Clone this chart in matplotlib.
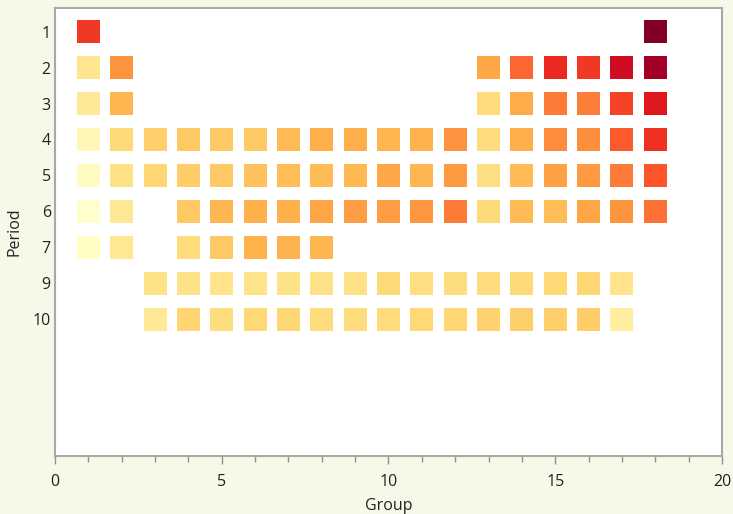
import matplotlib.pyplot as plt
from matplotlib import colors
from matplotlib.ticker import MultipleLocator

# first ionization energy (eV)
period_labels = ["1", "2", "3", "4", "5", "6", "7", "9", "10"]

row_1_groups = [1, 18]
row_1_vals = [13.6, 24.59]

row_2_groups = [1, 2, 13, 14, 15, 16, 17, 18]
row_2_vals = [5.39, 9.32, 8.30, 11.26, 14.53, 13.62, 17.42, 21.56]

row_3_groups = [1, 2, 13, 14, 15, 16, 17, 18]
row_3_vals = [5.14, 7.65, 5.99, 8.15, 10.49, 10.36, 12.97, 15.76]

row_4_groups = list(range(1, 19))
row_4_vals = [4.34, 6.11, 6.56, 6.83, 6.75, 6.77, 7.43, 7.90, 7.88,
              7.64, 7.73, 9.39, 6.00, 7.90, 9.79, 9.75, 11.81, 14.00]

row_5_groups = list(range(1, 19))
row_5_vals = [4.18, 5.69, 6.22, 6.63, 6.76, 7.09, 7.28, 7.36, 7.46,
              8.34, 7.58, 8.99, 5.79, 7.34, 8.61, 9.01, 10.45, 12.13]

row_6_groups = [1, 2] + list(range(4, 19))
row_6_vals = [3.89, 5.21, 6.83, 7.55, 7.86, 7.83, 8.44, 8.97, 8.96,
              9.23, 10.44, 6.11, 7.42, 7.29, 8.41, 9.32, 10.75]

row_7_groups = [1, 2, 4, 5, 6, 7, 8]
row_7_vals = [4.07, 5.28, 6.0, 6.8, 7.8, 7.7, 7.6]

row_9_groups = list(range(3, 18))
row_9_vals = [5.58, 5.54, 5.47, 5.53, 5.58, 5.64, 5.67, 6.15, 5.86,
              5.94, 6.02, 6.11, 6.18, 6.25, 5.43]

row_10_groups = list(range(3, 18))
row_10_vals = [5.17, 6.31, 5.89, 6.19, 6.27, 6.03, 5.97, 5.99, 6.20,
               6.28, 6.42, 6.50, 6.58, 6.65, 4.90]

rows = [
    (row_1_groups, row_1_vals),
    (row_2_groups, row_2_vals),
    (row_3_groups, row_3_vals),
    (row_4_groups, row_4_vals),
    (row_5_groups, row_5_vals),
    (row_6_groups, row_6_vals),
    (row_7_groups, row_7_vals),
    (row_9_groups, row_9_vals),
    (row_10_groups, row_10_vals),
]

plt.rcParams["font.family"] = ["Open Sans", "DejaVu Sans"]

bg = "#f8f8e8"
fig = plt.figure(figsize=(7.33, 5.14), dpi=100, facecolor=bg)
ax = fig.add_axes([0.075, 0.113, 0.910, 0.871])
ax.set_facecolor("white")

all_vals = [v for _, vals in rows for v in vals]
norm = colors.LogNorm(vmin=min(all_vals), vmax=max(all_vals))
cmap = plt.get_cmap("YlOrRd")

box_w = 0.69
box_h = 0.63
for i, (groups, vals) in enumerate(rows):
    ax.bar(groups, [box_h] * len(groups), width=box_w,
           bottom=[i - box_h / 2] * len(groups),
           color=[cmap(norm(v)) for v in vals], linewidth=0)

ax.set_xlim(0, 20)
ax.set_ylim(11.8, -0.65)
ax.set_yticks(range(len(period_labels)))
ax.set_yticklabels(period_labels)
ax.xaxis.set_major_locator(MultipleLocator(5))
ax.xaxis.set_minor_locator(MultipleLocator(1))

ax.tick_params(axis="y", length=0, pad=3, labelsize=11.5, labelcolor="#222222")
ax.tick_params(axis="x", which="major", length=6, width=1, color="#909090",
               labelsize=11.5, labelcolor="#222222", pad=7)
ax.tick_params(axis="x", which="minor", length=4, width=1, color="#909090")

for side in ["left", "bottom", "top", "right"]:
    ax.spines[side].set_color("#a8a8a8")
    ax.spines[side].set_linewidth(1.5)

ax.set_xlabel("Group", fontsize=11.5, color="#222222", labelpad=6)
ax.set_ylabel("Period", fontsize=11.5, color="#222222", labelpad=7)

fig.savefig("out.png", dpi=100, facecolor=bg)
